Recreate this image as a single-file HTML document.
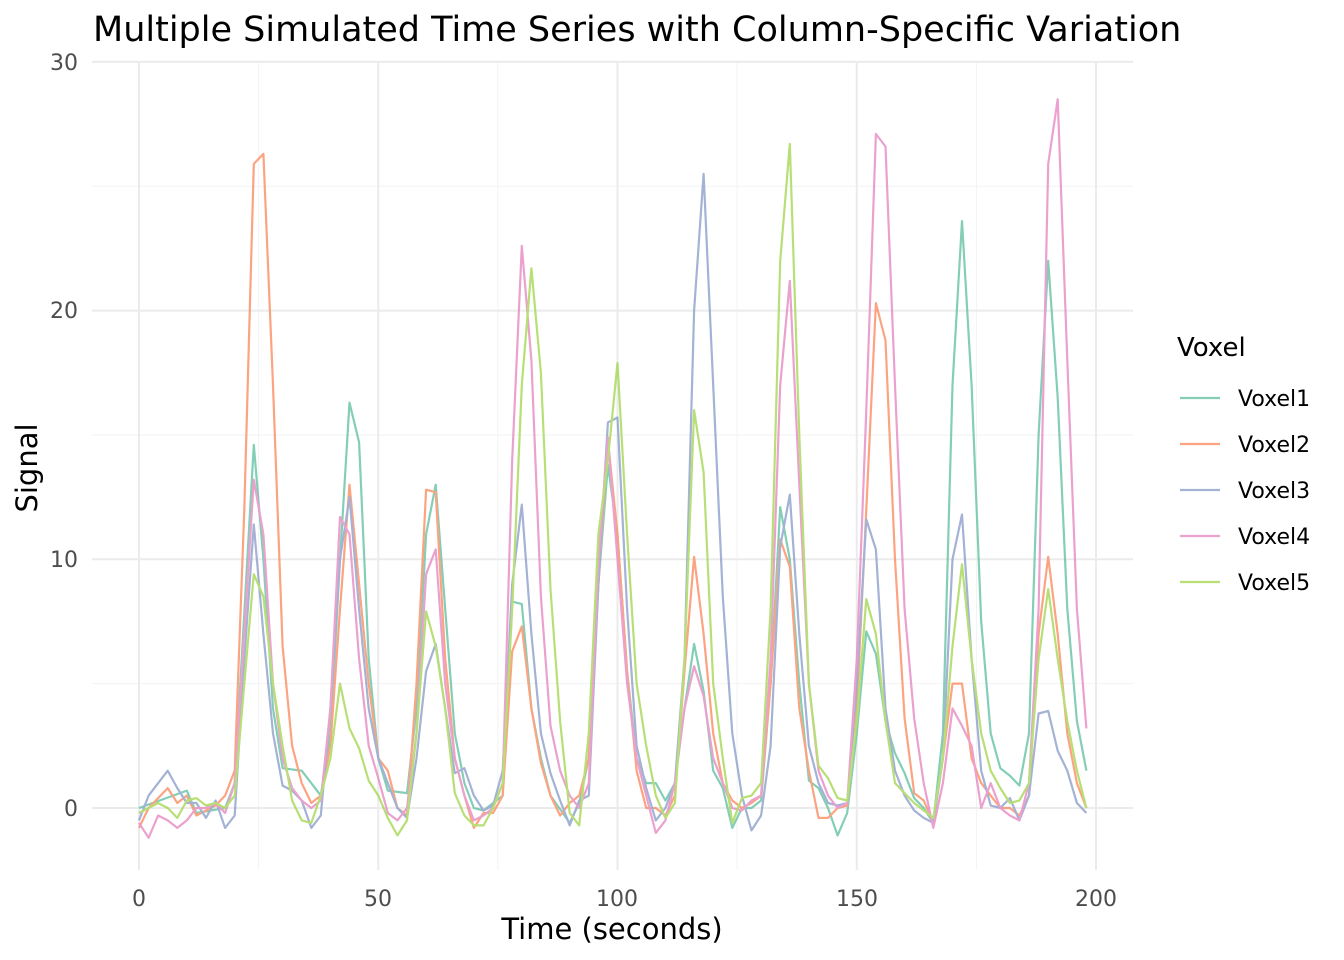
<!DOCTYPE html>
<html><head><meta charset="utf-8"><style>
body{margin:0;background:#fff;}
svg{display:block;font-family:"DejaVu Sans","Liberation Sans",sans-serif;}
</style></head><body>
<svg id="s" width="1344" height="960" viewBox="0 0 1344 960">
<rect width="1344" height="960" fill="#fff"/>
<g id="grid"></g>
<g id="lines" fill="none" stroke-width="2.2" stroke-linejoin="round" opacity="0.8"></g>
<text x="93" y="41" font-size="35" fill="#000">Multiple Simulated Time Series with Column-Specific Variation</text>
<g font-size="22" fill="#4d4d4d" text-anchor="end">
<text x="78" y="816">0</text><text x="78" y="567">10</text><text x="78" y="318">20</text><text x="78" y="70">30</text>
</g>
<g font-size="22" fill="#4d4d4d" text-anchor="middle">
<text x="139" y="906">0</text><text x="378" y="906">50</text><text x="617" y="906">100</text><text x="857" y="906">150</text><text x="1096" y="906">200</text>
</g>
<text x="612" y="939" font-size="29" text-anchor="middle">Time (seconds)</text>
<text transform="translate(37,468) rotate(-90)" font-size="29" text-anchor="middle">Signal</text>
<text x="1177" y="356" font-size="26">Voxel</text>
<g id="leg" font-size="22"></g>
</svg>
<script>
const X=t=>139+t*4.785, Y=v=>808-v*24.87;
const NS="http://www.w3.org/2000/svg";
const g=document.getElementById('grid');
function ln(p,x1,y1,x2,y2,c,w){const l=document.createElementNS(NS,'line');l.setAttribute('x1',x1);l.setAttribute('y1',y1);l.setAttribute('x2',x2);l.setAttribute('y2',y2);l.setAttribute('stroke',c);l.setAttribute('stroke-width',w);p.appendChild(l);}
[5,15,25].forEach(v=>ln(g,92,Y(v),1133,Y(v),'#f2f2f2',1));
[25,75,125,175].forEach(t=>ln(g,X(t),62,X(t),870,'#f2f2f2',1));
[0,10,20,30].forEach(v=>ln(g,92,Y(v),1133,Y(v),'#ebebeb',2));
[0,50,100,150,200].forEach(t=>ln(g,X(t),62,X(t),870,'#ebebeb',2));
const D={
'#66C2A5':"0:0,10:0.7,12:-0.2,18:0,20:1,24:14.6,26:10,28:4,30:1.6,34:1.5,38:0.5,40:3,42:10,44:16.3,46:14.7,48:6,50:2,52:0.7,56:0.6,58:4,60:11,62:13,64:8,66:3,68:1,70:0,72:-0.1,76:0.5,78:8.3,80:8.2,82:4,84:2,86:0.5,90:-0.6,92:0.2,94:2,96:9,98:13.8,100:11,102:5.5,104:2,106:1,108:1,110:0.3,112:1,114:4,116:6.6,118:4.7,120:1.5,122:0.8,124:-0.8,126:0,128:0,130:0.3,132:5,134:12.1,136:10,138:5,140:1.1,142:0.8,144:0,146:-1.1,148:-0.2,150:3,152:7.1,154:6.2,156:3.5,158:2.2,160:1.4,162:0.4,164:0,166:-0.6,168:3,170:17,172:23.6,174:17,176:7.5,178:3,180:1.6,182:1.3,184:0.9,186:3,188:15,190:22,192:16.5,194:8,196:3.5,198:1.5",
'#FC8D62':"0:-0.8,2:0,6:0.8,8:0.2,10:0.5,12:-0.3,16:0.1,18:0.5,20:1.5,22:12,24:25.9,26:26.3,28:17,30:6.5,32:2.5,34:1,36:0.2,38:0.5,40:2.5,42:8,44:13,46:9,48:5,50:2,52:1.5,54:0,56:-0.3,58:5,60:12.8,62:12.7,64:6,66:2,68:0.5,70:-0.8,72:-0.2,74:-0.2,76:0.5,78:6.3,80:7.3,82:4,84:1.8,86:0.5,88:-0.3,90:0.2,92:0.5,94:2,96:9,98:14.8,100:11,102:5.5,104:1.5,106:0,108:0,110:-0.3,112:0.5,114:5.5,116:10.1,118:7,120:3,122:1,124:0.3,126:0,128:0.2,130:0.5,132:5,134:10.8,136:9.7,138:4,140:1.5,142:-0.4,144:-0.4,146:0,148:0.1,150:4,152:12,154:20.3,156:18.8,158:10,160:3.6,162:0.6,164:0.3,166:-0.6,168:2,170:5,172:5,174:2,176:1,178:0.5,180:0,182:0,184:-0.3,186:0.5,188:7,190:10.1,192:7,194:3,196:1,198:0",
'#8DA0CB':"0:-0.5,2:0.5,6:1.5,8:0.8,10:0.2,12:0.2,14:-0.4,16:0.3,18:-0.8,20:-0.3,22:6,24:11.4,26:7,28:3,30:0.9,32:0.7,34:0.3,36:-0.8,38:-0.3,40:4,42:10,44:12.5,46:8,48:4,50:2,52:1,54:0,56:-0.4,58:2,60:5.5,62:6.6,64:4,66:1.4,68:1.6,70:0.5,72:-0.1,74:0.1,76:1.5,78:9,80:12.2,82:7,84:3,86:1.4,88:0.3,90:-0.7,92:0.3,94:0.5,96:9,98:15.5,100:15.7,102:8,104:2.5,106:0.8,108:-0.5,110:0,112:1,114:6,116:20,118:25.5,120:17,122:8.5,124:3,126:0.5,128:-0.9,130:-0.3,132:2.5,134:10.5,136:12.6,138:7,140:2.5,142:1,144:0.2,146:0.1,148:0.2,150:5,152:11.6,154:10.4,156:4,158:1.5,160:0.5,162:-0.1,164:-0.4,166:-0.6,168:2,170:10,172:11.8,174:6,176:1.5,178:0.1,180:0,182:0.4,184:-0.5,186:0.5,188:3.8,190:3.9,192:2.3,194:1.5,196:0.2,198:-0.2",
'#E78AC3':"0:-0.6,2:-1.2,4:-0.3,6:-0.5,8:-0.8,10:-0.5,12:0,14:0,16:0.2,18:-0.2,20:1,22:7,24:13.2,26:11,28:5,30:2,32:0.8,34:0.3,36:0,38:0.3,40:4,42:11.7,44:11,46:6,48:2.5,50:1.2,52:-0.2,54:-0.5,56:0,58:3,60:9.4,62:10.4,64:5,66:2,68:0.5,70:-0.5,72:-0.3,74:0,76:1,78:14,80:22.6,82:18,84:8.5,86:3.3,88:1.5,90:0.5,92:0,94:1,96:10,98:14.9,100:10,102:5,104:2,106:0.5,108:-1,110:-0.5,112:1,114:4,116:5.7,118:4.5,120:2,122:1,124:0,126:-0.1,128:0.3,130:0.5,132:6,134:17,136:21.2,138:13,140:5,142:1.5,144:0.5,146:0,148:0.2,150:6,152:16,154:27.1,156:26.6,158:17,160:8,162:3.6,164:1,166:-0.8,168:1,170:4,172:3.3,174:2.5,176:0,178:1,180:0,182:-0.3,184:-0.5,186:1,188:8,190:25.9,192:28.5,194:18,196:8,198:3.2",
'#A6D854':"0:-0.2,2:0,4:0.2,6:0,8:-0.4,10:0.3,12:0.4,14:0.1,16:0.2,18:0,20:0.5,22:5,24:9.4,26:8.5,28:5,30:2.5,32:0.3,34:-0.5,36:-0.6,38:0.5,40:2,42:5,44:3.2,46:2.4,48:1.1,50:0.5,52:-0.4,54:-1.1,56:-0.5,58:3,60:7.9,62:6.5,64:4,66:0.6,68:-0.3,70:-0.7,72:-0.7,74:0,76:1,78:8,80:17,82:21.7,84:17.5,86:8.8,88:3.5,90:-0.2,92:-0.7,94:3,96:11,98:14,100:17.9,102:11,104:5,106:2.5,108:0.5,110:-0.4,112:0.2,114:6,116:16,118:13.5,120:5,122:2,124:-0.6,126:0.4,128:0.5,130:1,132:8,134:22,136:26.7,138:15,140:5,142:1.7,144:1.2,146:0.4,148:0.3,150:3.5,152:8.4,154:7,156:3.5,158:1,160:0.6,162:0.2,164:-0.1,166:-0.4,168:2,170:6.5,172:9.8,174:6,176:3,178:1.5,180:0.8,182:0.2,184:0.3,186:1,188:6,190:8.8,192:6,194:3.5,196:1.5,198:0"
};
const L=document.getElementById('lines'),G=document.getElementById('leg');
let i=0;
for(const c in D){
 const pts=D[c].split(',').map(s=>s.split(':').map(Number));
 const p=document.createElementNS(NS,'path');
 p.setAttribute('d','M'+pts.map(q=>X(q[0]).toFixed(1)+','+Y(q[1]).toFixed(1)).join('L'));
 p.setAttribute('stroke',c);L.appendChild(p);
 const y=398+i*46;
 const l=document.createElementNS(NS,'line');l.setAttribute('x1',1180);l.setAttribute('x2',1220);l.setAttribute('y1',y);l.setAttribute('y2',y);l.setAttribute('stroke',c);l.setAttribute('stroke-width',2.2);l.setAttribute('opacity',0.8);G.appendChild(l);
 const t=document.createElementNS(NS,'text');t.setAttribute('x',1238);t.setAttribute('y',y+8);t.textContent='Voxel'+(i+1);G.appendChild(t);
 i++;
}
</script>
</body></html>
